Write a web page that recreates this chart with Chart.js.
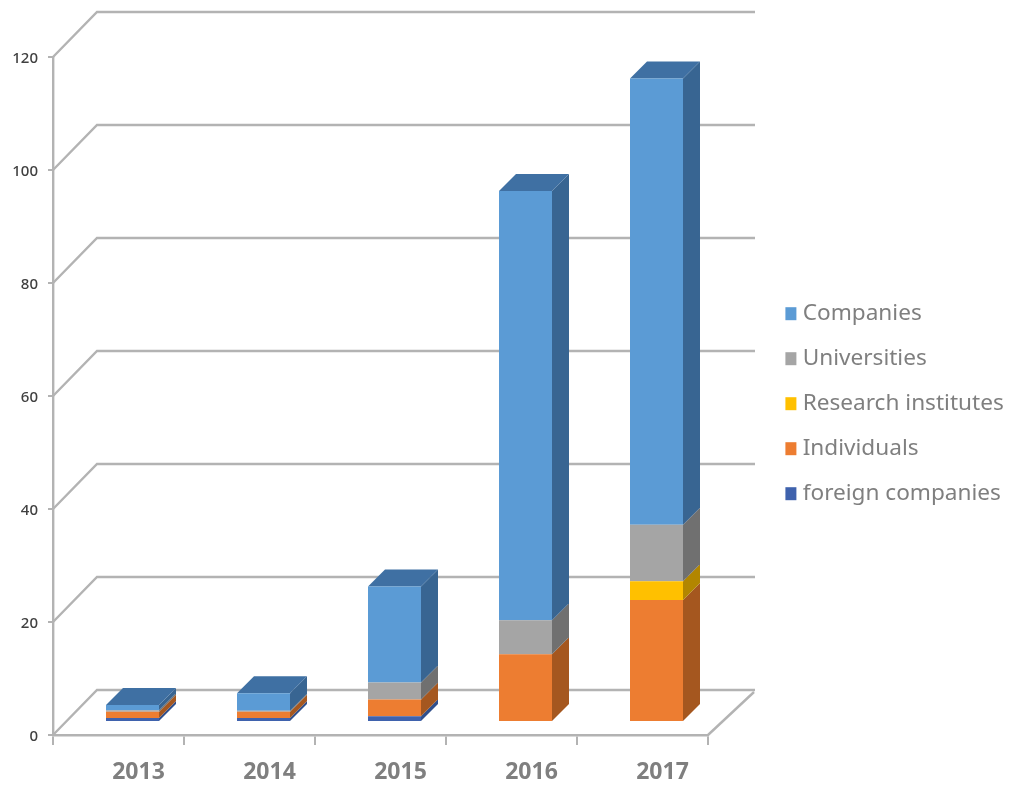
<!DOCTYPE html>
<html><head><meta charset="utf-8">
<style>html,body{margin:0;padding:0;background:#fff;overflow:hidden}canvas{display:block;filter:blur(0.6px)}</style>
<script src="https://cdn.jsdelivr.net/npm/chart.js@4"></script>
</head><body><canvas id="c" width="1010" height="802"></canvas>
<script>
const categories = ['2013','2014','2015','2016','2017'];
const foreignCompanies = [0.7,0.7,1,0,0];
const individuals = [1.1,1.1,3,12,21.6];
const researchInstitutes = [0,0,0,0,3.3];
const universities = [0.3,0.2,3,6,10];
const companies = [0.9,3.1,17,76,79];
const yMax = 120, yStep = 20;

const front = {foreign:'#3f62ad',ind:'#ed7d31',res:'#ffc000',uni:'#a5a5a5',com:'#5b9bd5'};
const side = ['#2f4f8c','#a5571f','#b28600','#707070','#386592'];
const topFace = ['#36599a','#bd6426','#cc9a00','#858585','#3f70a3'];

const D = {barDx:14, barDy:-13, depth:17, wallDx:44, wallDy:-45, wallRight:755, floorDx:46, floorDy:-43, line:'#b3b3b3'};

const poly = (ctx, pts, color) => {
  ctx.beginPath(); pts.forEach((p,i)=> i?ctx.lineTo(p[0],p[1]):ctx.moveTo(p[0],p[1])); ctx.closePath();
  ctx.fillStyle=color; ctx.fill();
};

const threeD = {
  id:'threeD',
  beforeLayout(chart){
    const lg = chart.legend;
    if(lg && !lg._wrapped){
      const f = lg.fit;
      lg.fit = function(){ f.call(this); this.width = 302; };
      lg._wrapped = true;
    }
  },
  afterLayout(chart){
    const lg = chart.legend;
    lg.left = 768; lg.right = 1010;
    lg.top = 280; lg.bottom = 540;
  },
  beforeDatasetsDraw(chart){
    const {ctx, scales:{x,y}} = chart;
    ctx.save();
    ctx.strokeStyle = D.line; ctx.lineWidth = 2.4;
    y.ticks.forEach(t=>{
      const py = y.getPixelForValue(t.value);
      ctx.beginPath();
      ctx.moveTo(x.left, py);
      ctx.lineTo(x.left+D.wallDx, py+D.wallDy);
      ctx.lineTo(D.wallRight, py+D.wallDy);
      ctx.stroke();
    });
    const by = y.getPixelForValue(0);
    ctx.beginPath();
    ctx.moveTo(x.right, by);
    ctx.lineTo(x.right+D.floorDx, by+D.floorDy);
    ctx.stroke();
    ctx.restore();

    ctx.save();
    ctx.translate(D.barDx, D.barDy);
    const n = chart.data.datasets.length;
    chart.data.labels.forEach((_, i)=>{
      let last = -1;
      for(let d=0;d<n;d++){
        const v = chart.data.datasets[d].data[i];
        if(!v) continue;
        const el = chart.getDatasetMeta(d).data[i];
        const r = el.x+el.width/2;
        poly(ctx, [[r,el.y],[r+D.depth,el.y-D.depth],[r+D.depth,el.base-D.depth],[r,el.base]], side[d]);
        last = d;
      }
      if(last>=0){
        const el = chart.getDatasetMeta(last).data[i];
        const r = el.x+el.width/2, l = el.x-el.width/2;
        poly(ctx, [[l,el.y],[l+D.depth,el.y-D.depth],[r+D.depth,el.y-D.depth],[r,el.y]], topFace[last]);
      }
    });
  },
  afterDatasetsDraw(chart){ chart.ctx.restore(); }
};

const ds = (label,data,color)=>({label,data,backgroundColor:color,borderWidth:0,clip:false,
  barPercentage:53/131,categoryPercentage:1});

new Chart(document.getElementById('c'),{
  type:'bar',
  data:{labels:categories,datasets:[
    ds('foreign companies',foreignCompanies,front.foreign),
    ds('Individuals',individuals,front.ind),
    ds('Research institutes',researchInstitutes,front.res),
    ds('Universities',universities,front.uni),
    ds('Companies',companies,front.com)
  ]},
  plugins:[threeD],
  options:{
    responsive:false,animation:false,
    layout:{padding:{top:57,left:0,right:0,bottom:0}},
    plugins:{
      tooltip:{enabled:false},
      title:{display:false},
      legend:{
        display:true,position:'right',align:'start',reverse:true,
        labels:{
          boxWidth:1,boxHeight:3,padding:22.4,color:'#7f7f7f',
          font:{family:'"Noto Sans"',size:22.6},
          generateLabels(chart){
            return Chart.defaults.plugins.legend.labels.generateLabels(chart).map(it=>({...it,lineWidth:10,strokeStyle:it.fillStyle}));
          }
        }
      }
    },
    scales:{
      x:{
        stacked:true,offset:true,
        afterFit(s){s.height=67;},
        border:{color:D.line,width:2.4},
        grid:{display:true,drawOnChartArea:false,drawTicks:true,tickLength:10,color:D.line,lineWidth:2,offset:true},
        ticks:{color:'#7f7f7f',font:{family:'"Noto Sans"',size:23,weight:'bold'},labelOffset:20,padding:14,maxRotation:0,autoSkip:false}
      },
      y:{
        stacked:true,min:0,max:yMax,
        afterFit(s){s.width=53;},
        border:{color:D.line,width:2.4},
        grid:{display:true,drawOnChartArea:false,drawTicks:true,tickLength:5,color:D.line,lineWidth:2},
        ticks:{stepSize:yStep,color:'#404040',font:{family:'"Noto Sans"',size:15,weight:'500'},labelOffset:2,padding:10,z:1}
      }
    }
  }
});
</script></body></html>
